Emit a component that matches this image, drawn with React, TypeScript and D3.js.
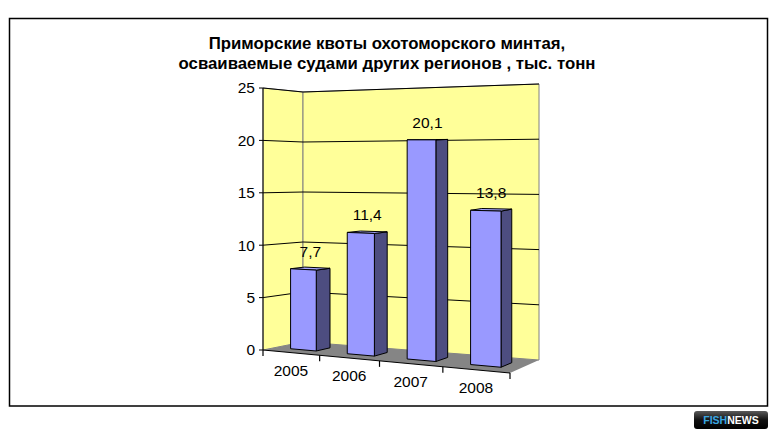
import React from 'react';
import * as d3 from 'd3';

// data
const years = ['2005', '2006', '2007', '2008'];
const quotas = [7.7, 11.4, 20.1, 13.8];
const valueTicks = [0, 5, 10, 15, 20, 25];
const titleLines = ['Приморские квоты охотоморского минтая,', 'осваиваемые судами других регионов , тыс. тонн'];

const W = 778;
const H = 440;
const font = '"Liberation Sans", Arial, sans-serif';

type Pt = [number, number];

// screen corners of the 3D plot box (front/back, top/bottom, left/right)
const box: Record<string, Pt> = {
    fbl: [263, 350], fbr: [510, 373], bbl: [303, 342], bbr: [539, 360],
    ftl: [263, 88], ftr: [510, 84], btl: [303, 92], btr: [539, 84],
};

const lerp = (a: Pt, b: Pt, t: number): Pt => [a[0] + (b[0] - a[0]) * t, a[1] + (b[1] - a[1]) * t];

// slight perspective along the category axis
const persp = (u: number) => u / (u + 1.12 * (1 - u));

// u: category axis 0..1, v: value 0..1, w: depth 0..1
const project = (u: number, v: number, w: number): Pt => {
    const p = persp(u);
    const bottom = lerp(lerp(box.fbl, box.fbr, p), lerp(box.bbl, box.bbr, p), w);
    const top = lerp(lerp(box.ftl, box.ftr, p), lerp(box.btl, box.btr, p), w);
    return lerp(bottom, top, v);
};

const poly = (pts: Pt[]) => pts.map(p => p.join(',')).join(' ');

const App: React.FC = () => {
    const xBand = d3.scaleBand<string>().domain(years).range([0, 1]).paddingInner(0.54).paddingOuter(0.27);
    const yScale = d3.scaleLinear().domain([0, 25]).range([0, 1]);
    const step = xBand.step();
    const depthFront = 0.32;
    const depthBack = 0.68;

    const boundaries = d3.range(years.length + 1).map(i => i * step);

    return (
        <svg width={W} height={H} style={{ position: 'absolute', left: 0, top: 0, background: '#fff' }} fontFamily={font}>
            {/* outer frame */}
            <rect x={9.5} y={18.5} width={758} height={387.5} fill="#fff" stroke="#000" strokeWidth={1.5} />

            {/* title */}
            {titleLines.map((t, i) => (
                <text key={i} x={387} y={49 + i * 20} textAnchor="middle" fontSize={16.8} fontWeight="bold" fill="#000">{t}</text>
            ))}

            {/* walls */}
            <polygon points={poly([project(0, 0, 0), project(0, 1, 0), project(0, 1, 1), project(0, 0, 1)])}
                fill="#FFFF99" stroke="#808080" strokeWidth={1} />
            <polygon points={poly([project(0, 0, 1), project(0, 1, 1), project(1, 1, 1), project(1, 0, 1)])}
                fill="#FFFF99" stroke="#808080" strokeWidth={1} />

            {/* floor */}
            <polygon points={poly([project(0, 0, 0), project(0, 0, 1), project(1, 0, 1), project(1, 0, 0)])}
                fill="#858585" stroke="none" />

            {/* gridlines */}
            {valueTicks.filter(v => v > 0).map(v => {
                const vv = yScale(v);
                return (
                    <polyline key={v} points={poly([project(0, vv, 0), project(0, vv, 1), project(1, vv, 1)])}
                        fill="none" stroke="#000" strokeWidth={1} />
                );
            })}

            {/* value axis */}
            <line x1={project(0, 0, 0)[0]} y1={project(0, 0, 0)[1]} x2={project(0, 1, 0)[0]} y2={project(0, 1, 0)[1]}
                stroke="#000" strokeWidth={1} />
            {valueTicks.map(v => {
                const [px, py] = project(0, yScale(v), 0);
                return (
                    <g key={v}>
                        <line x1={px - 4} y1={py} x2={px} y2={py} stroke="#000" />
                        <text x={px - 8} y={py} dy="0.35em" textAnchor="end" fontSize={15.5} fill="#000">{v}</text>
                    </g>
                );
            })}

            {/* category axis */}
            <line x1={project(0, 0, 0)[0]} y1={project(0, 0, 0)[1]} x2={project(1, 0, 0)[0]} y2={project(1, 0, 0)[1]}
                stroke="#000" strokeWidth={1.2} />
            {boundaries.map((u, i) => {
                const [px, py] = project(u, 0, 0);
                return <line key={i} x1={px} y1={py} x2={px} y2={py + 6} stroke="#000" strokeWidth={1.2} />;
            })}
            {years.map(y => {
                const [px, py] = project((xBand(y) as number) + xBand.bandwidth() / 2, 0, 0);
                return (
                    <text key={y} x={px} y={py + 18} dy="0.35em" textAnchor="middle" fontSize={15.5} fill="#000">{y}</text>
                );
            })}

            {/* bars */}
            {years.map((y, i) => {
                const u0 = xBand(y) as number;
                const u1 = u0 + xBand.bandwidth();
                const v = yScale(quotas[i]);
                const front = [project(u0, 0, depthFront), project(u1, 0, depthFront), project(u1, v, depthFront), project(u0, v, depthFront)];
                const side = [project(u1, 0, depthFront), project(u1, 0, depthBack), project(u1, v, depthBack), project(u1, v, depthFront)];
                const top = [project(u0, v, depthFront), project(u1, v, depthFront), project(u1, v, depthBack), project(u0, v, depthBack)];
                const [lx, ly] = project((u0 + u1) / 2, v, 0.5);
                return (
                    <g key={y}>
                        <polygon points={poly(side)} fill="#4d4d80" stroke="#000" strokeWidth={1} strokeLinejoin="round" />
                        <polygon points={poly(top)} fill="#a6a6ff" stroke="#000" strokeWidth={1} strokeLinejoin="round" />
                        <polygon points={poly(front)} fill="#9999ff" stroke="#000" strokeWidth={1} strokeLinejoin="round" />
                        <text x={lx} y={ly - 12} textAnchor="middle" fontSize={15.5} fill="#000">
                            {String(quotas[i]).replace('.', ',')}
                        </text>
                    </g>
                );
            })}

            {/* logo */}
            <defs>
                <linearGradient id="logoGrad" x1="0" y1="0" x2="0" y2="1">
                    <stop offset="0" stopColor="#5a5a5a" />
                    <stop offset="0.5" stopColor="#111" />
                    <stop offset="1" stopColor="#000" />
                </linearGradient>
            </defs>
            <rect x={694} y={411} width={74} height={18} rx={3} fill="url(#logoGrad)" />
            <text x={731} y={424} textAnchor="middle" fontSize={10.5} fontWeight="bold" fontFamily={font}>
                <tspan fill="#3aa6e0">FISH</tspan>
                <tspan fill="#fff">NEWS</tspan>
            </text>
        </svg>
    );
};

export default App;
